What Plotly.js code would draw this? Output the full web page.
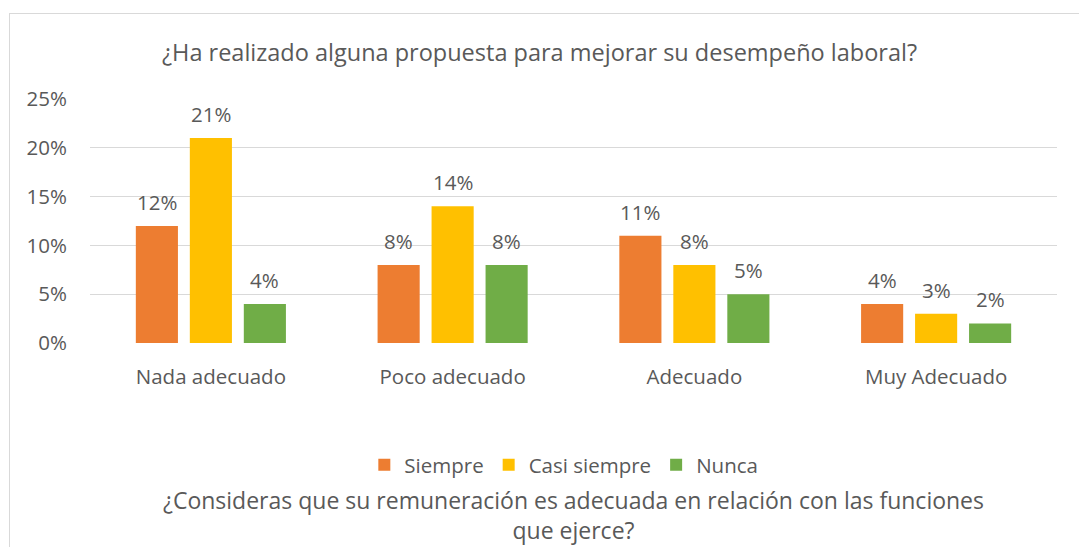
<!DOCTYPE html>
<html><head><meta charset="utf-8">
<script src="https://cdn.plot.ly/plotly-3.0.1.min.js"></script>
<style>
html,body{margin:0;padding:0;background:#fff;}
#frame{position:absolute;left:9px;top:13px;width:1090px;height:560px;border:1px solid #D9D9D9;box-sizing:border-box;}
#chart{position:absolute;left:0;top:0;width:1079px;height:547px;}
</style></head>
<body>
<div id="frame"></div>
<div id="chart"></div>
<script>
const categories = ["Nada adecuado", "Poco adecuado", "Adecuado", "Muy Adecuado"];
const seriesNames = ["Siempre", "Casi siempre", "Nunca"];
const siempre = [0.12, 0.08, 0.11, 0.04];
const casiSiempre = [0.21, 0.14, 0.08, 0.03];
const nunca = [0.04, 0.08, 0.05, 0.02];
const colors = ["#ED7D31", "#FFC000", "#70AD47"];
const yTicks = [0, 0.05, 0.10, 0.15, 0.20, 0.25];

const font = "Open Sans, Noto Sans, sans-serif";
const grey = "#595959";
const allSeries = [siempre, casiSiempre, nunca];

const traces = allSeries.map((vals, i) => ({
  type: "bar", name: seriesNames[i], x: categories, y: vals,
  marker: {color: colors[i]}, hoverinfo: "none"
}));

const shifts = [-54, 0, 54];
const annotations = [];
allSeries.forEach((vals, i) => {
  vals.forEach((v, j) => {
    annotations.push({
      x: categories[j], y: v, xref: "x", yref: "y",
      text: Math.round(v * 100) + "%", showarrow: false,
      xshift: shifts[i], yshift: 8, yanchor: "bottom",
      font: {family: font, size: 20.5, color: grey}
    });
  });
});

const layout = {
  width: 1079, height: 547,
  margin: {l: 90, r: 22, t: 99, b: 204},
  paper_bgcolor: "rgba(0,0,0,0)", plot_bgcolor: "rgba(0,0,0,0)",
  barmode: "group", bargap: 0.33, bargroupgap: 0.22,
  title: {text: "¿Ha realizado alguna propuesta para mejorar su desempeño laboral?",
          x: 0.5, xref: "container", xanchor: "center", y: 0.903, yanchor: "middle",
          font: {family: font, size: 23.5, color: grey}},
  xaxis: {
    type: "category", showgrid: false, zeroline: false, showline: false,
    ticks: "", tickfont: {family: font, size: 20.5, color: grey}, ticklabelstandoff: 19,
    title: {text: "¿Consideras que su remuneración es adecuada en relación con las funciones<br>que ejerce?",
            font: {family: font, size: 23, color: grey}, standoff: 104}
  },
  yaxis: {
    range: [0, 0.25], tickvals: yTicks, tickformat: ".0%",
    showgrid: true, gridcolor: "#D9D9D9", gridwidth: 1.3,
    zeroline: false, showline: false, ticks: "",
    tickfont: {family: font, size: 20.5, color: grey}, ticklabelstandoff: 22
  },
  legend: {orientation: "h", x: 0.49, xanchor: "center", y: -0.5, yanchor: "middle",
           font: {family: font, size: 20.5, color: grey}, itemwidth: 30, traceorder: "normal",
           tracegroupgap: 0, borderwidth: 0},
  annotations: annotations,
  showlegend: true
};

Plotly.newPlot("chart", traces, layout, {displayModeBar: false, staticPlot: true});
</script>
</body></html>
